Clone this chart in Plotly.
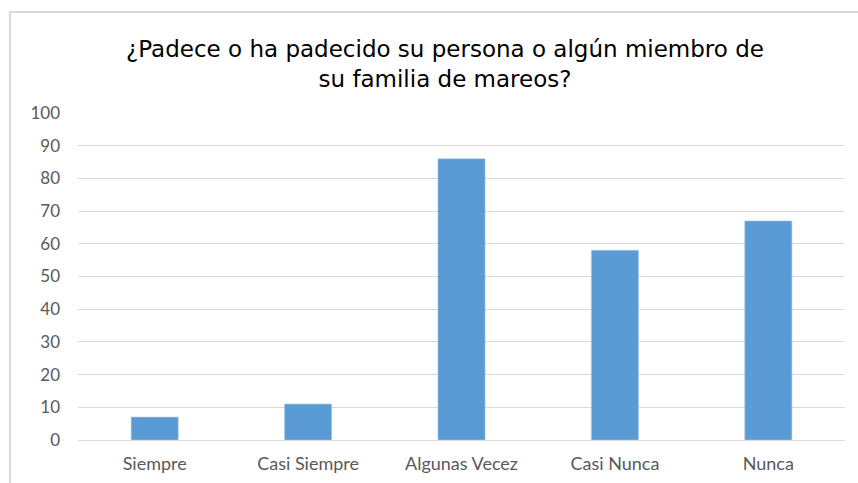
import plotly.graph_objects as go

categories = ["Siempre", "Casi Siempre", "Algunas Vecez", "Casi Nunca", "Nunca"]
values = [7, 11, 86, 58, 67]
y_ticks = [0, 10, 20, 30, 40, 50, 60, 70, 80, 90, 100]
title_text = "¿Padece o ha padecido su persona o algún miembro de<br>su familia de mareos?"

W, H = 858, 483
L, R, T, B = 78, 13, 113, 43
pw, ph = W - L - R, H - T - B

fig = go.Figure(go.Bar(
    x=categories, y=values,
    marker=dict(color="#5B9BD5", line=dict(color="#A9C9EA", width=0.6)),
))

fig.update_layout(
    width=W, height=H,
    margin=dict(l=L, r=R, t=T, b=B, autoexpand=False),
    paper_bgcolor="white", plot_bgcolor="white",
    bargap=0.693,
    showlegend=False,
    title=dict(
        text=title_text,
        font=dict(family="DejaVu Sans", size=23, color="#000000"),
        xref="paper", x=(445 - L) / pw, xanchor="center",
        yref="container", y=1 - 57 / H, yanchor="middle",
    ),
    xaxis=dict(
        showgrid=False, showline=False, ticks="", automargin=False,
        tickfont=dict(family="Lato", size=18, color="#595959"),
        ticklabelstandoff=11,
    ),
    yaxis=dict(
        range=[0, 100], tickvals=y_ticks, automargin=False,
        showgrid=True, gridcolor="#D9D9D9", gridwidth=1,
        zeroline=True, zerolinecolor="#D9D9D9", zerolinewidth=1,
        showline=False, ticks="",
        tickfont=dict(family="Lato", size=17, color="#595959"),
        ticklabelstandoff=17,
    ),
    shapes=[dict(
        type="rect", xref="paper", yref="paper",
        x0=(10 - L) / pw, x1=1.2,
        y0=-0.5, y1=(H - B - 12) / ph,
        line=dict(color="#D9D9D9", width=2), fillcolor="rgba(0,0,0,0)",
        layer="below",
    )],
)

fig.write_html("out.html")
